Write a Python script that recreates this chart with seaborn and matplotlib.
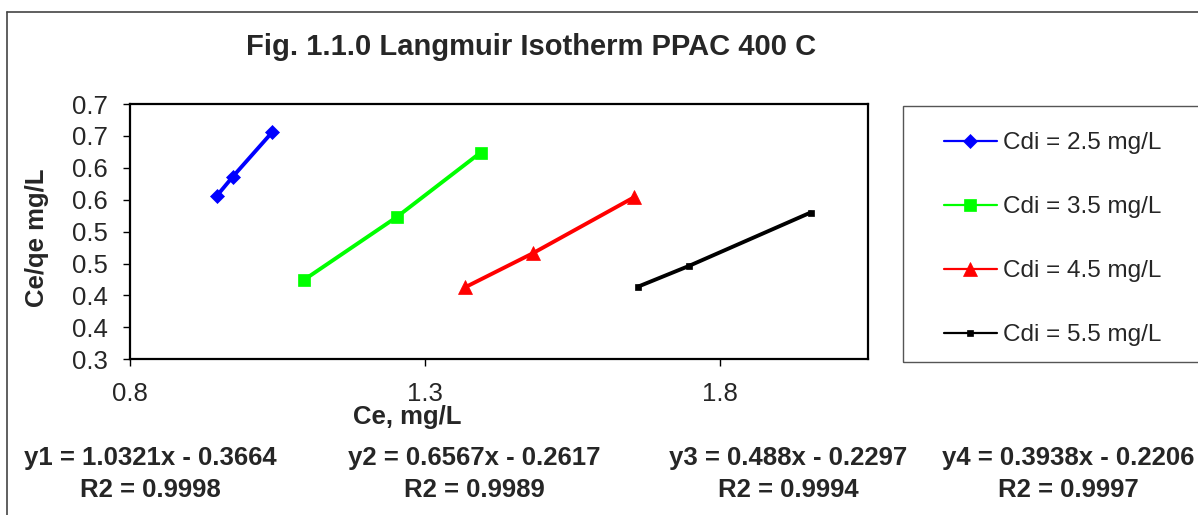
import pandas as pd
import seaborn as sns
import matplotlib.pyplot as plt
from matplotlib.lines import Line2D
from matplotlib.patches import Rectangle

# Dados
ce_25 = [0.947, 0.974, 1.041]
ceqe_25 = [0.556, 0.586, 0.656]
ce_35 = [1.094, 1.252, 1.394]
ceqe_35 = [0.424, 0.523, 0.624]
ce_45 = [1.368, 1.482, 1.654]
ceqe_45 = [0.413, 0.466, 0.554]
ce_55 = [1.661, 1.746, 1.953]
ceqe_55 = [0.414, 0.446, 0.530]

series_labels = ['Cdi = 2.5 mg/L', 'Cdi = 3.5 mg/L', 'Cdi = 4.5 mg/L', 'Cdi = 5.5 mg/L']
x_ticks = [0.8, 1.3, 1.8]
y_ticks = [0.30, 0.35, 0.40, 0.45, 0.50, 0.55, 0.60, 0.65, 0.70]
y_tick_labels = ['0.3', '0.4', '0.4', '0.5', '0.5', '0.6', '0.6', '0.7', '0.7']
equations = ['y1 = 1.0321x - 0.3664', 'y2 = 0.6567x - 0.2617',
             'y3 = 0.488x - 0.2297', 'y4 = 0.3938x - 0.2206']
r2_values = ['R2 = 0.9998', 'R2 = 0.9989', 'R2 = 0.9994', 'R2 = 0.9997']

W, H = 1198, 515

sns.set_theme(style="ticks")
plt.rcParams['font.family'] = ['Liberation Sans', 'DejaVu Sans']

fig = plt.figure(figsize=(W / 100, H / 100), dpi=100)
ax = fig.add_axes([130 / W, 1 - 359.3 / H, 738 / W, 255.3 / H])

estilos = [('#0000FF', 'D', 7), ('#00FF00', 's', 9), ('#FF0000', '^', 10), ('#000000', 's', 5)]
dados = [(ce_25, ceqe_25), (ce_35, ceqe_35), (ce_45, ceqe_45), (ce_55, ceqe_55)]

for (xs, ys), label, (cor, marcador, tam) in zip(dados, series_labels, estilos):
    df = pd.DataFrame({'ce': xs, 'ceqe': ys})
    sns.lineplot(data=df, x='ce', y='ceqe', ax=ax, color=cor, marker=marcador,
                 markersize=tam, markeredgecolor=cor, markeredgewidth=0.5,
                 linewidth=2.8, label=label, sort=False)

ax.set_xlim(0.8, 2.05)
ax.set_ylim(0.3, 0.7)
ax.set_xticks(x_ticks)
ax.set_xticklabels([f'{v:.1f}' for v in x_ticks])
ax.set_yticks(y_ticks)
ax.set_yticklabels(y_tick_labels)
ax.tick_params(direction='out', length=5, width=1, pad=11, labelsize=18.5, color='black')
for sp in ax.spines.values():
    sp.set_visible(True)
    sp.set_color('black')
    sp.set_linewidth(1.6)

ax.set_xlabel('Ce, mg/L', fontsize=18.5, weight='bold')
ax.set_ylabel('Ce/qe mg/L', fontsize=18.5, weight='bold')
ax.xaxis.set_label_coords((407 - 130) / 738, (359.3 - 417) / 255.3)
ax.yaxis.set_label_coords((37 - 130) / 738, (359.3 - 237.5) / 255.3)
ax.xaxis.label.set_va('center')
ax.yaxis.label.set_va('center')

# Legenda com caixa que sai pela borda direita
leg = ax.legend(loc='upper left', bbox_to_anchor=(944 / W, 1 - 132 / H),
                bbox_transform=fig.transFigure, frameon=False, fontsize=17.5,
                borderpad=0, borderaxespad=0, labelspacing=1.73,
                handlelength=2.18, handletextpad=0.25)
for h in leg.get_lines():
    h.set_linewidth(1.6)
fig.add_artist(Rectangle((903 / W, 1 - 362 / H), 320 / W, 256 / H,
                         transform=fig.transFigure, fill=False,
                         edgecolor='#555555', linewidth=1))

fig.text(531 / W, 1 - 47 / H, 'Fig. 1.1.0 Langmuir Isotherm PPAC 400 C',
         ha='center', va='center', fontsize=21, weight='bold')

centros = [150, 474, 788, 1068]
for cx, eq, r2 in zip(centros, equations, r2_values):
    fig.text(cx / W, 1 - 458 / H, eq, ha='center', va='center', fontsize=18.5, weight='bold')
    fig.text(cx / W, 1 - 490 / H, r2, ha='center', va='center', fontsize=18.5, weight='bold')

# Moldura externa
fig.add_artist(Line2D([7 / W, 7 / W], [0, 1 - 12 / H], transform=fig.transFigure,
                      color='#444444', linewidth=1.2))
fig.add_artist(Line2D([7 / W, 1], [1 - 12 / H, 1 - 12 / H], transform=fig.transFigure,
                      color='#444444', linewidth=1.2))

plt.savefig('out.png', dpi=100)
plt.close()
